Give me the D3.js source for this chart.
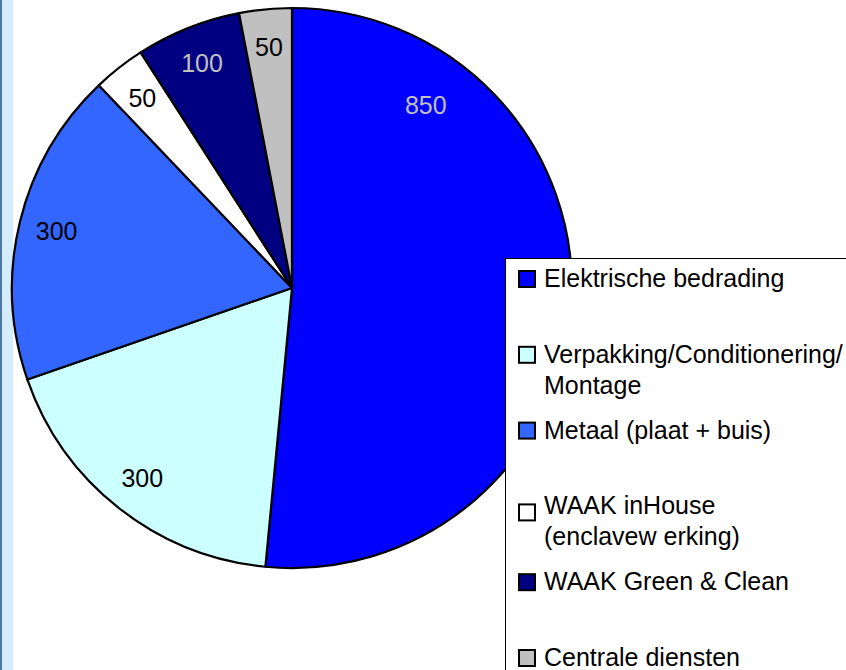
<!DOCTYPE html>
<html>
<head>
<meta charset="utf-8">
<script src="https://cdn.jsdelivr.net/npm/d3@7/dist/d3.min.js"></script>
<style>
  html, body { margin: 0; padding: 0; background: #ffffff; }
  svg { display: block; font-family: "Liberation Sans", Arial, sans-serif; }
</style>
</head>
<body>
<svg id="chart" width="846" height="670"></svg>
<script>
// ---- data ----
const categories = [
  "Elektrische bedrading",
  "Verpakking/Conditionering/",
  "Metaal (plaat + buis)",
  "WAAK inHouse",
  "WAAK Green & Clean",
  "Centrale diensten"
];
const legendLines = [
  ["Elektrische bedrading"],
  ["Verpakking/Conditionering/", "Montage"],
  ["Metaal (plaat + buis)"],
  ["WAAK inHouse", "(enclavew erking)"],
  ["WAAK Green & Clean"],
  ["Centrale diensten"]
];
const values = [850, 300, 300, 50, 100, 50];
const colors = ["#0000ff", "#ccffff", "#3366ff", "#ffffff", "#000080", "#c0c0c0"];
const labelColors = ["#c0c0c0", "#000000", "#000000", "#000000", "#c0c0c0", "#000000"];

// ---- layout ----
const svg = d3.select("#chart");
const W = 846, H = 670;
const cx = 292, cy = 288, R = 280;

// left window strip
svg.append("rect").attr("x", 0).attr("y", 0).attr("width", 13).attr("height", H).attr("fill", "#d4ecfc");
svg.append("rect").attr("x", 0).attr("y", 0).attr("width", 2).attr("height", H).attr("fill", "#4a76a8");

const pie = d3.pie().value(d => d).sort(null);
const arcs = pie(values);
const arc = d3.arc().innerRadius(0).outerRadius(R);

const g = svg.append("g").attr("transform", `translate(${cx},${cy})`);
g.selectAll("path.slice").data(arcs).enter().append("path")
  .attr("class", "slice")
  .attr("d", arc)
  .attr("fill", (d, i) => colors[i])
  .attr("stroke", "#000")
  .attr("stroke-width", 2.2)
  .attr("stroke-linejoin", "round");

// labels
function labelPos(d) {
  let a, r;
  if (d.index === 0) { // moved away from the legend
    a = d.startAngle + (d.endAngle - d.startAngle) * 0.195;
    r = R * 0.81;
  } else {
    a = (d.startAngle + d.endAngle) / 2;
    r = R * 0.865;
  }
  return [r * Math.sin(a), -r * Math.cos(a)];
}
g.selectAll("text.lbl").data(arcs).enter().append("text")
  .attr("class", "lbl")
  .attr("x", d => labelPos(d)[0])
  .attr("y", d => labelPos(d)[1] + 9)
  .attr("text-anchor", "middle")
  .attr("font-size", 25)
  .attr("fill", (d, i) => labelColors[i])
  .text(d => d.data);

// legend
const lx = 505, ly = 258;
svg.append("rect").attr("x", lx + 0.5).attr("y", ly + 0.5)
  .attr("width", W).attr("height", H)
  .attr("fill", "#fff").attr("stroke", "#000").attr("stroke-width", 1);

const ys = d3.scaleLinear().domain([0, categories.length - 1]).range([287, 666]);
const sqOffset = [-16, -16, -16, -10, -16, -16];
const leg = svg.append("g");
categories.forEach((c, i) => {
  const by = ys(i);
  leg.append("rect")
    .attr("x", 519).attr("y", by + sqOffset[i])
    .attr("width", 16).attr("height", 16)
    .attr("fill", colors[i]).attr("stroke", "#000").attr("stroke-width", 2);
  legendLines[i].forEach((t, j) => {
    leg.append("text")
      .attr("x", 544).attr("y", by + j * 31)
      .attr("font-size", 25)
      .attr("fill", "#000")
      .text(t);
  });
});
</script>
</body>
</html>
